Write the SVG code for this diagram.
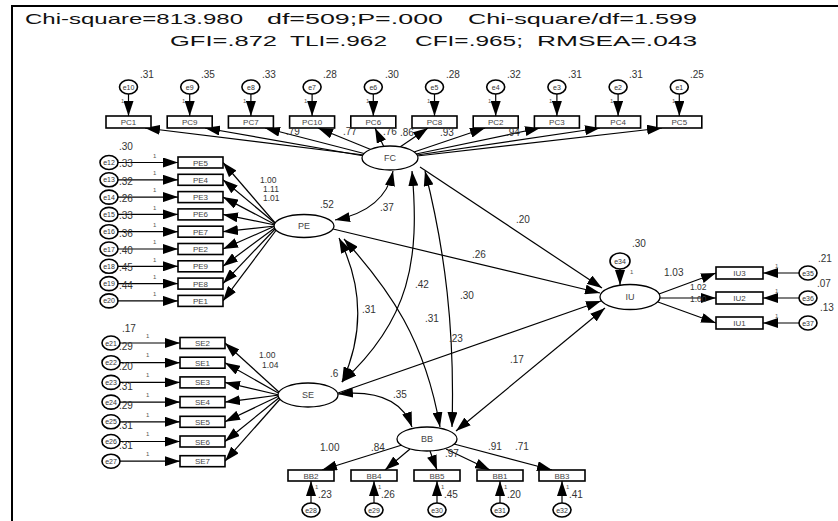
<svg xmlns="http://www.w3.org/2000/svg" width="838" height="521" viewBox="0 0 838 521">
<defs>
<marker id="ah" markerUnits="userSpaceOnUse" markerWidth="15" markerHeight="10" refX="15" refY="5" orient="auto"><path d="M0,0 L15,5 L0,10 z" fill="#000"/></marker>
<marker id="ahs" markerUnits="userSpaceOnUse" markerWidth="15" markerHeight="10" refX="15" refY="5" orient="auto-start-reverse"><path d="M0,0 L15,5 L0,10 z" fill="#000"/></marker>
<style>
.t{font-family:"Liberation Sans",Arial,sans-serif;}
.title{font-size:15px;fill:#111;}
.box{fill:#fff;stroke:#000;stroke-width:1.6;}
.bl{font-size:8px;fill:#444;text-anchor:middle;}
.err{fill:#fff;stroke:#000;stroke-width:1.6;}
.el{font-size:7px;fill:#333;text-anchor:middle;}
.lat{fill:#fff;stroke:#000;stroke-width:1.3;}
.ll{font-size:9px;fill:#444;text-anchor:middle;}
.n{font-size:10px;fill:#333;}
.s{font-size:8.5px;}
.one{font-size:6px;fill:#555;}
.a{fill:none;stroke:#000;stroke-width:1.2;marker-end:url(#ah);}
.d{fill:none;stroke:#000;stroke-width:1.2;marker-end:url(#ahs);marker-start:url(#ahs);}
</style>
</defs>
<rect x="0" y="0" width="838" height="521" fill="#fff"/>
<path d="M12,521 L12,6 L838,6" fill="none" stroke="#000" stroke-width="2"/>
<g id="title" class="t title">
<text x="25" y="24" textLength="218" lengthAdjust="spacingAndGlyphs">Chi-square=813.980</text>
<text x="267" y="24" textLength="176" lengthAdjust="spacingAndGlyphs">df=509;P=.000</text>
<text x="468" y="24" textLength="229" lengthAdjust="spacingAndGlyphs">Chi-square/df=1.599</text>
<text x="170" y="46" textLength="107" lengthAdjust="spacingAndGlyphs">GFI=.872</text>
<text x="290" y="46" textLength="97" lengthAdjust="spacingAndGlyphs">TLI=.962</text>
<text x="415" y="46" textLength="108" lengthAdjust="spacingAndGlyphs">CFI=.965;</text>
<text x="537" y="46" textLength="160" lengthAdjust="spacingAndGlyphs">RMSEA=.043</text>
</g>

<g id="connectors">
<path class="a" d="M364,155 L145,128"/>
<path class="a" d="M364,156 L205,128"/>
<path class="a" d="M366,154 L265,128"/>
<path class="a" d="M372,150 L318,128"/>
<path class="a" d="M384,147 L375,128"/>
<path class="a" d="M400,147 L428,128"/>
<path class="a" d="M414,152 L485,128"/>
<path class="a" d="M416,154 L540,128"/>
<path class="a" d="M417,155 L600,128"/>
<path class="a" d="M417,156 L662,128"/>
<path class="a" d="M276,224 L223,162.5"/>
<path class="a" d="M276,224 L223,179.8"/>
<path class="a" d="M276,225 L223,197.1"/>
<path class="a" d="M275,225 L223,214.4"/>
<path class="a" d="M275,226 L223,231.7"/>
<path class="a" d="M275,226 L223,249"/>
<path class="a" d="M276,227 L223,266.3"/>
<path class="a" d="M276,228 L223,283.6"/>
<path class="a" d="M277,229 L223,300.9"/>
<path class="a" d="M280,393 L225,343"/>
<path class="a" d="M280,394 L225,362.7"/>
<path class="a" d="M279,395 L225,382.4"/>
<path class="a" d="M279,395 L225,402.1"/>
<path class="a" d="M279,396 L225,421.8"/>
<path class="a" d="M280,397 L225,441.5"/>
<path class="a" d="M281,398 L225,461.2"/>
<path class="a" d="M402,445 L322,470"/>
<path class="a" d="M410,449 L385,470"/>
<path class="a" d="M430,451 L437,470"/>
<path class="a" d="M446,449 L490,470"/>
<path class="a" d="M454,444 L552,470"/>
<path class="a" d="M659,294 L716,273"/>
<path class="a" d="M660,298 L716,298"/>
<path class="a" d="M658,302 L716,323"/>
<path class="d" d="M335,220 Q385,210 393,171"/>
<path class="d" d="M339,238 Q375,310 342,382"/>
<path class="d" d="M412,171 C420,260 410,320 342,382"/>
<path class="d" d="M425,171 C445,250 455,330 452,427"/>
<path class="d" d="M344,239 C390,290 425,340 440,427"/>
<path class="d" d="M338,394 Q398,388 412,427"/>
<path class="a" d="M420,167 L602,288"/>
<path class="a" d="M333,229 L600,293"/>
<path class="a" d="M338,393 L601,301"/>
<path class="d" d="M456,431 L605,308"/>
</g>

<g id="FC"><ellipse class="lat" cx="390" cy="158" rx="28" ry="12"/><text class="t ll" x="390" y="161">FC</text></g>
<g id="PE"><ellipse class="lat" cx="304" cy="226" rx="30" ry="11.5"/><text class="t ll" x="304" y="229">PE</text></g>
<g id="SE"><ellipse class="lat" cx="308" cy="395" rx="30" ry="12"/><text class="t ll" x="308" y="398">SE</text></g>
<g id="BB"><ellipse class="lat" cx="427" cy="439" rx="30" ry="12"/><text class="t ll" x="427" y="442">BB</text></g>
<g id="IU"><ellipse class="lat" cx="630" cy="297" rx="30" ry="12.5"/><text class="t ll" x="630" y="300">IU</text></g>

<g id="PC1"><rect class="box" x="106" y="116" width="45" height="12"/><text class="t bl" x="128.5" y="125">PC1</text><ellipse class="err" cx="128.5" cy="87" rx="9" ry="7"/><text class="t el" x="128.5" y="89.5">e10</text><path class="a" d="M128.5,94 L128.5,116"/><text class="t one" x="121" y="103">1</text><text class="t n" x="140" y="78">.31</text></g>
<g id="PC9"><rect class="box" x="167.2" y="116" width="45" height="12"/><text class="t bl" x="189.7" y="125">PC9</text><ellipse class="err" cx="189.7" cy="87" rx="9" ry="7"/><text class="t el" x="189.7" y="89.5">e9</text><path class="a" d="M189.7,94 L189.7,116"/><text class="t one" x="182" y="103">1</text><text class="t n" x="201" y="78">.35</text></g>
<g id="PC7"><rect class="box" x="228.4" y="116" width="45" height="12"/><text class="t bl" x="250.9" y="125">PC7</text><ellipse class="err" cx="250.9" cy="87" rx="9" ry="7"/><text class="t el" x="250.9" y="89.5">e8</text><path class="a" d="M250.9,94 L250.9,116"/><text class="t one" x="243" y="103">1</text><text class="t n" x="262" y="78">.33</text></g>
<g id="PC10"><rect class="box" x="289.6" y="116" width="45" height="12"/><text class="t bl" x="312.1" y="125">PC10</text><ellipse class="err" cx="312.1" cy="87" rx="9" ry="7"/><text class="t el" x="312.1" y="89.5">e7</text><path class="a" d="M312.1,94 L312.1,116"/><text class="t one" x="304" y="103">1</text><text class="t n" x="323" y="78">.28</text></g>
<g id="PC6"><rect class="box" x="350.8" y="116" width="45" height="12"/><text class="t bl" x="373.3" y="125">PC6</text><ellipse class="err" cx="373.3" cy="87" rx="9" ry="7"/><text class="t el" x="373.3" y="89.5">e6</text><path class="a" d="M373.3,94 L373.3,116"/><text class="t one" x="366" y="103">1</text><text class="t n" x="385" y="78">.30</text></g>
<g id="PC8"><rect class="box" x="412" y="116" width="45" height="12"/><text class="t bl" x="434.5" y="125">PC8</text><ellipse class="err" cx="434.5" cy="87" rx="9" ry="7"/><text class="t el" x="434.5" y="89.5">e5</text><path class="a" d="M434.5,94 L434.5,116"/><text class="t one" x="427" y="103">1</text><text class="t n" x="446" y="78">.28</text></g>
<g id="PC2"><rect class="box" x="473.2" y="116" width="45" height="12"/><text class="t bl" x="495.7" y="125">PC2</text><ellipse class="err" cx="495.7" cy="87" rx="9" ry="7"/><text class="t el" x="495.7" y="89.5">e4</text><path class="a" d="M495.7,94 L495.7,116"/><text class="t one" x="488" y="103">1</text><text class="t n" x="507" y="78">.32</text></g>
<g id="PC3"><rect class="box" x="534.4" y="116" width="45" height="12"/><text class="t bl" x="556.9" y="125">PC3</text><ellipse class="err" cx="556.9" cy="87" rx="9" ry="7"/><text class="t el" x="556.9" y="89.5">e3</text><path class="a" d="M556.9,94 L556.9,116"/><text class="t one" x="549" y="103">1</text><text class="t n" x="568" y="78">.31</text></g>
<g id="PC4"><rect class="box" x="595.6" y="116" width="45" height="12"/><text class="t bl" x="618.1" y="125">PC4</text><ellipse class="err" cx="618.1" cy="87" rx="9" ry="7"/><text class="t el" x="618.1" y="89.5">e2</text><path class="a" d="M618.1,94 L618.1,116"/><text class="t one" x="610" y="103">1</text><text class="t n" x="629" y="78">.31</text></g>
<g id="PC5"><rect class="box" x="656.8" y="116" width="45" height="12"/><text class="t bl" x="679.3" y="125">PC5</text><ellipse class="err" cx="679.3" cy="87" rx="9" ry="7"/><text class="t el" x="679.3" y="89.5">e1</text><path class="a" d="M679.3,94 L679.3,116"/><text class="t one" x="672" y="103">1</text><text class="t n" x="690" y="78">.25</text></g>

<g id="PE5"><rect class="box" x="178" y="157" width="45" height="11"/><text class="t bl" x="200.5" y="165.5">PE5</text><ellipse class="err" cx="109" cy="162.5" rx="9" ry="7"/><text class="t el" x="109" y="165">e12</text><path class="a" d="M118,162.5 L178,162.5"/><text class="t one" x="153" y="158">1</text><text class="t n" x="119" y="167">.33</text><text class="t n" x="119" y="150">.30</text></g>
<g id="PE4"><rect class="box" x="178" y="174.3" width="45" height="11"/><text class="t bl" x="200.5" y="182.8">PE4</text><ellipse class="err" cx="109" cy="179.8" rx="9" ry="7"/><text class="t el" x="109" y="182.3">e13</text><path class="a" d="M118,179.8 L178,179.8"/><text class="t one" x="153" y="175">1</text><text class="t n" x="119" y="185">.32</text></g>
<g id="PE3"><rect class="box" x="178" y="191.6" width="45" height="11"/><text class="t bl" x="200.5" y="200.1">PE3</text><ellipse class="err" cx="109" cy="197.1" rx="9" ry="7"/><text class="t el" x="109" y="199.6">e14</text><path class="a" d="M118,197.1 L178,197.1"/><text class="t one" x="153" y="192">1</text><text class="t n" x="119" y="202">.26</text></g>
<g id="PE6"><rect class="box" x="178" y="208.9" width="45" height="11"/><text class="t bl" x="200.5" y="217.4">PE6</text><ellipse class="err" cx="109" cy="214.4" rx="9" ry="7"/><text class="t el" x="109" y="216.9">e15</text><path class="a" d="M118,214.4 L178,214.4"/><text class="t one" x="153" y="210">1</text><text class="t n" x="119" y="219">.33</text></g>
<g id="PE7"><rect class="box" x="178" y="226.2" width="45" height="11"/><text class="t bl" x="200.5" y="234.7">PE7</text><ellipse class="err" cx="109" cy="231.7" rx="9" ry="7"/><text class="t el" x="109" y="234.2">e16</text><path class="a" d="M118,231.7 L178,231.7"/><text class="t one" x="153" y="227">1</text><text class="t n" x="119" y="237">.36</text></g>
<g id="PE2"><rect class="box" x="178" y="243.5" width="45" height="11"/><text class="t bl" x="200.5" y="252">PE2</text><ellipse class="err" cx="109" cy="249" rx="9" ry="7"/><text class="t el" x="109" y="251.5">e17</text><path class="a" d="M118,249 L178,249"/><text class="t one" x="153" y="244">1</text><text class="t n" x="119" y="254">.40</text></g>
<g id="PE9"><rect class="box" x="178" y="260.8" width="45" height="11"/><text class="t bl" x="200.5" y="269.3">PE9</text><ellipse class="err" cx="109" cy="266.3" rx="9" ry="7"/><text class="t el" x="109" y="268.8">e18</text><path class="a" d="M118,266.3 L178,266.3"/><text class="t one" x="153" y="262">1</text><text class="t n" x="119" y="271">.45</text></g>
<g id="PE8"><rect class="box" x="178" y="278.1" width="45" height="11"/><text class="t bl" x="200.5" y="286.6">PE8</text><ellipse class="err" cx="109" cy="283.6" rx="9" ry="7"/><text class="t el" x="109" y="286.1">e19</text><path class="a" d="M118,283.6 L178,283.6"/><text class="t one" x="153" y="279">1</text><text class="t n" x="119" y="289">.44</text></g>
<g id="PE1"><rect class="box" x="178" y="295.4" width="45" height="11"/><text class="t bl" x="200.5" y="303.9">PE1</text><ellipse class="err" cx="109" cy="300.9" rx="9" ry="7"/><text class="t el" x="109" y="303.4">e20</text><path class="a" d="M118,300.9 L178,300.9"/><text class="t one" x="153" y="296">1</text></g>

<g id="SE2"><rect class="box" x="180" y="337.5" width="45" height="11"/><text class="t bl" x="202.5" y="346">SE2</text><ellipse class="err" cx="111" cy="343" rx="9" ry="7"/><text class="t el" x="111" y="345.5">e21</text><path class="a" d="M120,343 L180,343"/><text class="t one" x="146" y="338">1</text><text class="t n" x="119" y="350">.29</text><text class="t n" x="122" y="332">.17</text></g>
<g id="SE1"><rect class="box" x="180" y="357.2" width="45" height="11"/><text class="t bl" x="202.5" y="365.7">SE1</text><ellipse class="err" cx="111" cy="362.7" rx="9" ry="7"/><text class="t el" x="111" y="365.2">e22</text><path class="a" d="M120,362.7 L180,362.7"/><text class="t one" x="146" y="357">1</text><text class="t n" x="119" y="370">.20</text></g>
<g id="SE3"><rect class="box" x="180" y="376.9" width="45" height="11"/><text class="t bl" x="202.5" y="385.4">SE3</text><ellipse class="err" cx="111" cy="382.4" rx="9" ry="7"/><text class="t el" x="111" y="384.9">e23</text><path class="a" d="M120,382.4 L180,382.4"/><text class="t one" x="146" y="377">1</text><text class="t n" x="119" y="390">.31</text></g>
<g id="SE4"><rect class="box" x="180" y="396.6" width="45" height="11"/><text class="t bl" x="202.5" y="405.1">SE4</text><ellipse class="err" cx="111" cy="402.1" rx="9" ry="7"/><text class="t el" x="111" y="404.6">e24</text><path class="a" d="M120,402.1 L180,402.1"/><text class="t one" x="146" y="397">1</text><text class="t n" x="119" y="409">.29</text></g>
<g id="SE5"><rect class="box" x="180" y="416.3" width="45" height="11"/><text class="t bl" x="202.5" y="424.8">SE5</text><ellipse class="err" cx="111" cy="421.8" rx="9" ry="7"/><text class="t el" x="111" y="424.3">e25</text><path class="a" d="M120,421.8 L180,421.8"/><text class="t one" x="146" y="417">1</text><text class="t n" x="119" y="429">.31</text></g>
<g id="SE6"><rect class="box" x="180" y="436" width="45" height="11"/><text class="t bl" x="202.5" y="444.5">SE6</text><ellipse class="err" cx="111" cy="441.5" rx="9" ry="7"/><text class="t el" x="111" y="444">e26</text><path class="a" d="M120,441.5 L180,441.5"/><text class="t one" x="146" y="436">1</text><text class="t n" x="119" y="449">.31</text></g>
<g id="SE7"><rect class="box" x="180" y="455.7" width="45" height="11"/><text class="t bl" x="202.5" y="464.2">SE7</text><ellipse class="err" cx="111" cy="461.2" rx="9" ry="7"/><text class="t el" x="111" y="463.7">e27</text><path class="a" d="M120,461.2 L180,461.2"/><text class="t one" x="146" y="456">1</text></g>

<g id="BB2"><rect class="box" x="288" y="470" width="46" height="11"/><text class="t bl" x="311" y="478.5">BB2</text><ellipse class="err" cx="311" cy="510" rx="9" ry="7"/><text class="t el" x="311" y="512.5">e28</text><path class="a" d="M311,503 L311,481"/><text class="t one" x="315" y="489">1</text><text class="t n" x="318" y="498">.23</text></g>
<g id="BB4"><rect class="box" x="351" y="470" width="46" height="11"/><text class="t bl" x="374" y="478.5">BB4</text><ellipse class="err" cx="374" cy="510" rx="9" ry="7"/><text class="t el" x="374" y="512.5">e29</text><path class="a" d="M374,503 L374,481"/><text class="t one" x="378" y="489">1</text><text class="t n" x="381" y="498">.26</text></g>
<g id="BB5"><rect class="box" x="414" y="470" width="46" height="11"/><text class="t bl" x="437" y="478.5">BB5</text><ellipse class="err" cx="437" cy="510" rx="9" ry="7"/><text class="t el" x="437" y="512.5">e30</text><path class="a" d="M437,503 L437,481"/><text class="t one" x="441" y="489">1</text><text class="t n" x="444" y="498">.45</text></g>
<g id="BB1"><rect class="box" x="477" y="470" width="46" height="11"/><text class="t bl" x="500" y="478.5">BB1</text><ellipse class="err" cx="500" cy="510" rx="9" ry="7"/><text class="t el" x="500" y="512.5">e31</text><path class="a" d="M500,503 L500,481"/><text class="t one" x="504" y="489">1</text><text class="t n" x="507" y="498">.20</text></g>
<g id="BB3"><rect class="box" x="539" y="470" width="46" height="11"/><text class="t bl" x="562" y="478.5">BB3</text><ellipse class="err" cx="562" cy="510" rx="9" ry="7"/><text class="t el" x="562" y="512.5">e32</text><path class="a" d="M562,503 L562,481"/><text class="t one" x="566" y="489">1</text><text class="t n" x="569" y="498">.41</text></g>

<g id="IU3"><rect class="box" x="716" y="267" width="47" height="12"/><text class="t bl" x="739.5" y="276">IU3</text><ellipse class="err" cx="808" cy="273" rx="9" ry="7"/><text class="t el" x="808" y="275.5">e35</text><path class="a" d="M799,273 L763,273"/><text class="t one" x="775" y="268">1</text><text class="t n" x="818" y="262">.21</text></g>
<g id="IU2"><rect class="box" x="716" y="292" width="47" height="12"/><text class="t bl" x="739.5" y="301">IU2</text><ellipse class="err" cx="808" cy="298" rx="9" ry="7"/><text class="t el" x="808" y="300.5">e36</text><path class="a" d="M799,298 L763,298"/><text class="t one" x="775" y="293">1</text><text class="t n" x="817" y="287">.07</text></g>
<g id="IU1"><rect class="box" x="716" y="317" width="47" height="12"/><text class="t bl" x="739.5" y="326">IU1</text><ellipse class="err" cx="808" cy="323" rx="9" ry="7"/><text class="t el" x="808" y="325.5">e37</text><path class="a" d="M799,323 L763,323"/><text class="t one" x="775" y="318">1</text><text class="t n" x="820" y="311">.13</text></g>
<g id="e34"><ellipse class="err" cx="620" cy="261" rx="10" ry="8"/><text class="t el" x="620" y="263.5">e34</text><path class="a" d="M620,269 L620,285"/><text class="t one" x="630" y="274">1</text><text class="t n" x="632" y="247">.30</text></g>

<g id="labels" class="t n">
<text x="286" y="135">.79</text>
<text x="343" y="135">.77</text>
<text x="383" y="135">.76</text>
<text x="400" y="136">.86</text>
<text x="440" y="136">.93</text>
<text x="506" y="136">.94</text>
<text class="s" x="260" y="183">1.00</text>
<text class="s" x="263" y="192">1.11</text>
<text class="s" x="263" y="201">1.01</text>
<text x="320" y="208">.52</text>
<text x="380" y="211">.37</text>
<text x="516" y="223">.20</text>
<text x="472" y="258">.26</text>
<text x="415" y="288">.42</text>
<text x="460" y="299">.30</text>
<text x="362" y="313">.31</text>
<text x="425" y="322">.31</text>
<text x="449" y="342">.23</text>
<text x="510" y="363">.17</text>
<text class="s" x="259" y="358">1.00</text>
<text class="s" x="262" y="368">1.04</text>
<text x="330" y="377">.6</text>
<text x="393" y="398">.35</text>
<text x="320" y="451">1.00</text>
<text x="371" y="451">.84</text>
<text x="445" y="457">.97</text>
<text x="488" y="450">.91</text>
<text x="515" y="450">.71</text>
<text x="664" y="276">1.03</text>
<text class="s" x="690" y="290">1.02</text>
<text class="s" x="690" y="302">1.00</text>
</g>
</svg>
